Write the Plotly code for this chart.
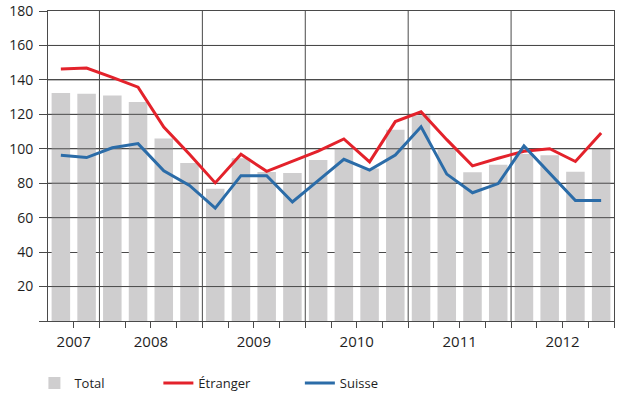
import plotly.graph_objects as go

# ---- data ----
quarters = ["2007 T3", "2007 T4",
            "2008 T1", "2008 T2", "2008 T3", "2008 T4",
            "2009 T1", "2009 T2", "2009 T3", "2009 T4",
            "2010 T1", "2010 T2", "2010 T3", "2010 T4",
            "2011 T1", "2011 T2", "2011 T3", "2011 T4",
            "2012 T1", "2012 T2", "2012 T3", "2012 T4"]
years = ["2007", "2008", "2009", "2010", "2011", "2012"]
total = [132.4, 132.0, 130.9, 127.2, 105.9, 91.8, 76.8, 94.5, 86.5, 85.9,
         93.5, 100.2, 88.5, 111.0, 119.5, 99.6, 86.3, 90.7, 97.0, 96.3, 86.7, 99.8]
etranger = [146.3, 146.9, 141.5, 135.8, 112.6, 96.8, 80.2, 96.8, 86.9, 92.7,
            98.6, 105.7, 92.4, 115.8, 121.5, 105.3, 90.1, 94.5, 98.6, 100.0, 92.6, 109.1]
suisse = [96.2, 94.9, 100.6, 103.0, 87.2, 78.7, 65.5, 84.4, 84.4, 69.1,
          81.5, 93.9, 87.6, 96.4, 112.8, 85.3, 74.5, 79.8, 101.7, 85.8, 69.9, 69.9]
y_ticks = [0, 20, 40, 60, 80, 100, 120, 140, 160, 180]

FONT = "Open Sans"
GRID = "#4a4a4a"
TXT = "#1e1e1e"

x = list(range(len(quarters)))
n = len(x)
# year positions derived from quarter labels
year_idx = {y: [i for i, q in enumerate(quarters) if q.startswith(y)] for y in years}
year_centers = [(min(v) + max(v)) / 2 for v in year_idx.values()]
year_bounds = [min(v) - 0.5 for v in list(year_idx.values())[1:]]
quarter_bounds = [i + 0.5 for i in range(n)]

fig = go.Figure()
fig.add_trace(go.Bar(x=x, y=total, name="Total", marker_color="#cfcecf",
                     marker_line_width=0, width=0.72, legend="legend"))

# grid lines drawn over the bars (the 40 line stays behind them)
for yv in y_ticks:
    if yv in (0, 40, 180):
        continue
    fig.add_trace(go.Scatter(x=[-0.5, n - 0.5], y=[yv, yv], mode="lines",
                             line=dict(color=GRID, width=1), hoverinfo="skip",
                             showlegend=False))
for xv in year_bounds:
    fig.add_trace(go.Scatter(x=[xv, xv], y=[0, 180], mode="lines",
                             line=dict(color=GRID, width=1), hoverinfo="skip",
                             showlegend=False))

fig.add_trace(go.Scatter(x=x, y=etranger, name="Étranger", mode="lines",
                         line=dict(color="#e3222b", width=3), legend="legend2"))
fig.add_trace(go.Scatter(x=x, y=suisse, name="Suisse", mode="lines",
                         line=dict(color="#2b6ca8", width=3), legend="legend3"))

leg_common = dict(orientation="h", yanchor="middle", y=-0.2, xanchor="left",
                  bgcolor="rgba(0,0,0,0)", borderwidth=0,
                  font=dict(family=FONT, size=13, color=TXT))

fig.update_layout(
    width=621, height=395,
    margin=dict(l=48, r=7, t=11, b=74, autoexpand=False),
    paper_bgcolor="white", plot_bgcolor="white",
    font=dict(family=FONT, size=15, color=TXT),
    xaxis=dict(range=[-0.5, n - 0.5], showgrid=False, zeroline=False,
               showline=True, linecolor=GRID, linewidth=1, mirror=True,
               tickmode="array", tickvals=year_centers, ticktext=years,
               ticks="outside", ticklen=6, tickcolor=GRID, tickwidth=1,
               minor=dict(tickvals=quarter_bounds, ticks="outside", ticklen=6,
                          tickcolor=GRID, tickwidth=1, showgrid=False),
               tickfont=dict(family=FONT, size=15, color=TXT),
               ticklabelstandoff=1, automargin=False, fixedrange=True),
    yaxis=dict(range=[0, 180.001], showgrid=True, gridcolor=GRID, gridwidth=1,
               zeroline=False, showline=True, linecolor=GRID, linewidth=1,
               mirror=True, tickmode="array", tickvals=y_ticks,
               ticktext=["" if v == 0 else str(v) for v in y_ticks],
               ticks="outside", ticklen=8, tickcolor=GRID, tickwidth=1,
               tickfont=dict(family=FONT, size=14, color=TXT),
               ticklabelstandoff=3, ticklabeloverflow="allow",
               automargin=False, fixedrange=True),
    legend=dict(x=-0.024, **leg_common),
    legend2=dict(x=0.195, **leg_common),
    legend3=dict(x=0.445, **leg_common),
)

fig.write_html("out.html", config={"displayModeBar": False},
               post_script="document.body.style.margin='0';")
